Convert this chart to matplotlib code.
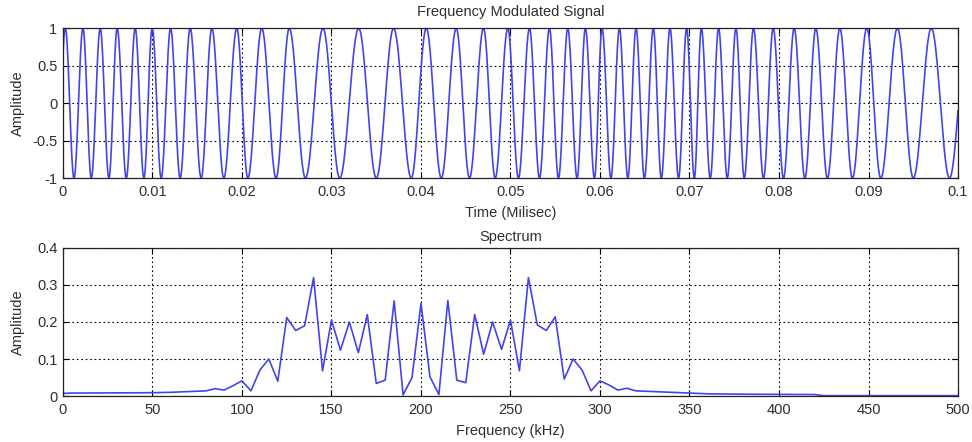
import numpy as np
import matplotlib
matplotlib.use("Agg")
import matplotlib.pyplot as plt

# times (ms) of the alternating peaks / troughs of the FM signal, first is a peak
extrema_t = [
    0.00026, 0.00123, 0.00223, 0.00316, 0.00416, 0.00513, 0.00606, 0.00707,
    0.00807, 0.00904, 0.00997, 0.01097, 0.01202, 0.01309, 0.01421, 0.01544,
    0.01663, 0.01797, 0.01942, 0.02065, 0.02221, 0.02381, 0.02528, 0.02709,
    0.02905, 0.03092, 0.03304, 0.03501, 0.03694, 0.03892, 0.04059, 0.04227,
    0.04394, 0.04542, 0.04699, 0.04829, 0.04970, 0.05089, 0.05212, 0.05324,
    0.05435, 0.05536, 0.05640, 0.05744, 0.05837, 0.05938, 0.06023, 0.06122,
    0.06217, 0.06311, 0.06403, 0.06496, 0.06596, 0.06685, 0.06782, 0.06878,
    0.06968, 0.07054, 0.07132, 0.07232, 0.07325, 0.07422, 0.07519, 0.07612,
    0.07715, 0.07827, 0.07935, 0.08050, 0.08170, 0.08289, 0.08412, 0.08541,
    0.08680, 0.08820, 0.08981, 0.09137, 0.09323, 0.09501, 0.09702, 0.09905,
]

# spectrum
spec_freq = [0, 5, 50, 60, 65, 70, 75, 80, 85, 90, 95,
             100, 105, 110, 115, 120, 125, 130, 135, 140, 145,
             150, 155, 160, 165, 170, 175, 180, 185, 190, 195,
             200, 205, 210, 215, 220, 225, 230, 235, 240, 245,
             250, 255, 260, 265, 270, 275, 280, 285, 290, 295,
             300, 305, 310, 315, 320, 325, 330, 340, 350, 360,
             380, 420, 425, 500]
spec_amp = [0.007, 0.008, 0.009, 0.010, 0.011, 0.012, 0.013, 0.014, 0.020, 0.016, 0.028,
            0.041, 0.014, 0.070, 0.100, 0.040, 0.212, 0.177, 0.190, 0.320, 0.068,
            0.205, 0.124, 0.200, 0.117, 0.220, 0.034, 0.043, 0.257, 0.003, 0.050,
            0.250, 0.052, 0.004, 0.258, 0.043, 0.036, 0.220, 0.113, 0.200, 0.126,
            0.205, 0.068, 0.320, 0.192, 0.177, 0.214, 0.046, 0.100, 0.070, 0.014,
            0.041, 0.030, 0.016, 0.021, 0.014, 0.013, 0.012, 0.010, 0.008, 0.006,
            0.005, 0.004, 0.001, 0.001]

top_xticks = [0, 0.01, 0.02, 0.03, 0.04, 0.05, 0.06, 0.07, 0.08, 0.09, 0.1]
top_yticks = [-1, -0.5, 0, 0.5, 1]
bot_xticks = [0, 50, 100, 150, 200, 250, 300, 350, 400, 450, 500]
bot_yticks = [0, 0.1, 0.2, 0.3, 0.4]

plt.rcParams["font.family"] = ["Liberation Sans", "DejaVu Sans"]
plt.rcParams["font.size"] = 10.5
TXT = "#2e2e2e"
LINE = "#4343ee"
FS = 10.5


def fmt(v):
    return "%g" % v


def style(ax, xticks, yticks):
    ax.set_xticks(xticks)
    ax.set_yticks(yticks)
    ax.set_xticklabels([fmt(v) for v in xticks], color=TXT)
    ax.set_yticklabels([fmt(v) for v in yticks], color=TXT)
    ax.tick_params(axis="x", direction="in", length=4, width=0.8, top=True,
                   pad=5, labelsize=FS)
    ax.tick_params(axis="y", direction="in", length=4, width=0.8, right=True,
                   pad=4, labelsize=FS)
    ax.grid(True, color="black", linestyle=(0, (1.5, 2.5)), linewidth=0.8)
    for s in ax.spines.values():
        s.set_linewidth(0.9)
        s.set_color("#222222")
    ax.yaxis.set_label_coords(-0.043, 0.5)


fig = plt.figure(figsize=(9.72, 4.42), dpi=100)
ax1 = fig.add_axes([0.0648, 0.597, 0.9208, 0.339])
ax2 = fig.add_axes([0.0648, 0.104, 0.9208, 0.335])

# phase goes up by pi between neighbouring extrema
ph = np.pi * np.arange(len(extrema_t))
t = np.linspace(0, 0.1, 2001)
phase = np.interp(t, extrema_t, ph)
slope0 = np.pi / (extrema_t[1] - extrema_t[0])
slope1 = np.pi / (extrema_t[-1] - extrema_t[-2])
phase = np.where(t < extrema_t[0], (t - extrema_t[0]) * slope0, phase)
phase = np.where(t > extrema_t[-1], ph[-1] + (t - extrema_t[-1]) * slope1, phase)
ax1.plot(t, np.cos(phase), color=LINE, lw=1.2)
ax1.set_xlim(0, 0.1)
ax1.set_ylim(-1, 1)
style(ax1, top_xticks, top_yticks)
ax1.set_title("Frequency Modulated Signal", fontsize=FS, color=TXT, pad=9)
ax1.set_xlabel("Time (Milisec)", fontsize=FS, color=TXT, labelpad=5)
ax1.set_ylabel("Amplitude", fontsize=FS, color=TXT)

ax2.plot(spec_freq, spec_amp, color=LINE, lw=1.2)
ax2.set_xlim(0, 500)
ax2.set_ylim(0, 0.4)
style(ax2, bot_xticks, bot_yticks)
ax2.set_title("Spectrum", fontsize=FS, color=TXT, pad=5)
ax2.set_xlabel("Frequency (kHz)", fontsize=FS, color=TXT, labelpad=5)
ax2.set_ylabel("Amplitude", fontsize=FS, color=TXT)

fig.savefig("out.png", dpi=100)
